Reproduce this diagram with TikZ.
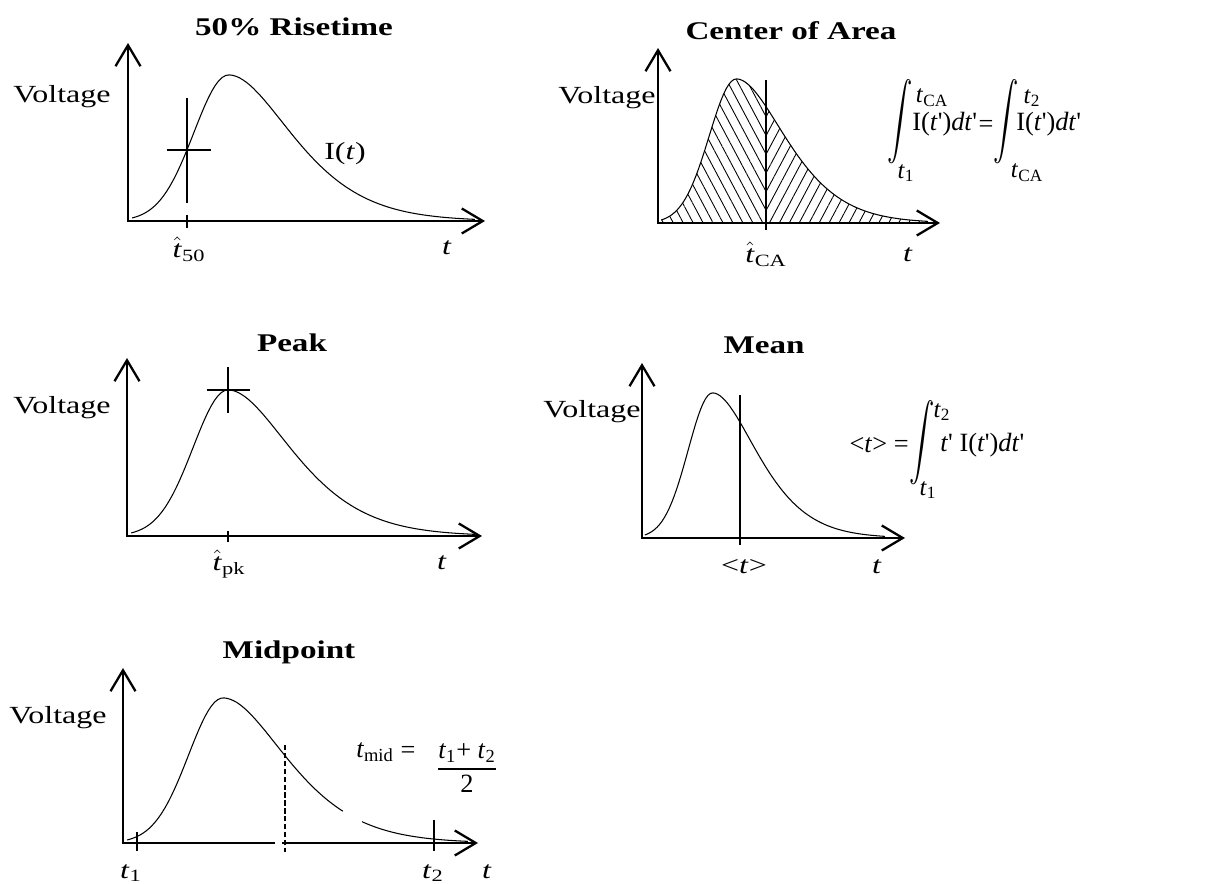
\documentclass[tikz,border=0pt]{standalone}
\usepackage{amsmath}
\usepackage{graphicx}
\usepackage{fontspec}
\setmainfont{Liberation Serif}[FakeStretch=1.3]
\newfontfamily\eqfont{Liberation Serif}
\usetikzlibrary{arrows.meta,patterns.meta}

\newcommand\tallint{\scalebox{1}[1.5]{$\displaystyle\int$}}
\newcommand\hatt{$\hat{\mbox{\textit{t}}}$}

\begin{document}
\begin{tikzpicture}[x=0.02cm,y=-0.02cm,>={Straight Barb[length=0.42cm,width=0.5cm]},
  every node/.style={font=\fontsize{14}{16}\selectfont,inner sep=0pt},
  ttl/.style={font=\bfseries\fontsize{14.5}{17}\selectfont},
  eqn/.style={font=\eqfont\fontsize{15}{17}\selectfont},
  lim/.style={font=\eqfont\fontsize{14}{16}\selectfont},
  axes/.style={line width=1.3pt,line join=miter},
  curve/.style={line width=0.6pt},
  cross/.style={line width=1.2pt},
  declare function={pulse(\u)=(\u<0.29)*exp(-50*(\u-0.29)*(\u-0.29))+(\u>=0.29)*((\u/0.29)*exp(1-\u/0.29))^3.7;}]
\useasboundingbox (0,0) rectangle (1224,884);

% 50% risetime
\node[ttl] (riseT) at (294,27) {50\% Risetime};
\node (riseV) at (62,97) {Voltage};
\draw[axes,<->] (128,43) -- (128,221) -- (485,221);
\draw[curve] plot[domain=0.012:1,samples=100] ({128+347*\x},{221-146*pulse(\x)});
\coordinate (rise50) at ({128+347*0.17},{221-146*pulse(0.17)});
\draw[cross] (rise50) ++(0,-52) -- ++(0,105);
\draw[cross] (rise50) ++(-20,0) -- ++(44,0);
\draw[cross] (187,215) -- (187,228);
\node (riseLab) at (189,249) {\hatt\textsubscript{50}};
\node (riseI) at (345,154) {I(\textit{t})};
\node (riset) at (447,248) {\textit{t}};

% center of area
\node[ttl] (coaT) at (791,31) {Center of Area};
\node (coaV) at (607,98) {Voltage};
\fill[pattern={Lines[angle=-62,distance=5pt,line width=0.5pt]}] (658,223)
  -- plot[domain=0.012:0.4,samples=50] ({658+270*\x},{223-144*pulse(\x)}) -- (766,223) -- cycle;
\fill[pattern={Lines[angle=62,distance=5pt,line width=0.5pt]}] (766,223)
  -- plot[domain=0.4:1,samples=60] ({658+270*\x},{223-144*pulse(\x)}) -- (928,223) -- cycle;
\draw[axes,<->] (658,48) -- (658,223) -- (940,223);
\draw[curve] plot[domain=0.012:1,samples=100] ({658+270*\x},{223-144*pulse(\x)});
\draw[cross] (766,80) -- (766,230);
\node (coaLab) at (766,254) {\hatt\textsubscript{CA}};
\node (coat) at (908,255) {\textit{t}};
\node (coaInt1) at (900,122) {\tallint};
\node[lim] (coaUp1) at (932,98) {\textit{t}\textsubscript{CA}};
\node[eqn,anchor=west] (coaF1) at (912,124) {I(\textit{t}\textquotesingle)\textit{dt}\textquotesingle};
\node[lim] (coaLo1) at (906,173) {\textit{t}\textsubscript{1}};
\node[eqn] (coaEq) at (986,126) {=};
\node (coaInt2) at (1006,122) {\tallint};
\node[lim] (coaUp2) at (1032,98) {\textit{t}\textsubscript{2}};
\node[eqn,anchor=west] (coaF2) at (1016,124) {I(\textit{t}\textquotesingle)\textit{dt}\textquotesingle};
\node[lim] (coaLo2) at (1027,173) {\textit{t}\textsubscript{CA}};

% peak
\node[ttl] (pkT) at (292,343) {Peak};
\node (pkV) at (62,408) {Voltage};
\draw[axes,<->] (127,358) -- (127,536) -- (482,536);
\draw[curve] plot[domain=0.012:1,samples=100] ({127+348*\x},{536-146*pulse(\x)});
\coordinate (pk) at ({127+348*0.29},{536-146*pulse(0.29)});
\draw[cross] (pk) ++(0,-23) -- ++(0,46);
\draw[cross] (pk) ++(-21,0) -- ++(43,0);
\draw[cross] (228,531) -- (228,542);
\node (pkLab) at (229,564) {\hatt\textsubscript{pk}};
\node (pkt) at (442,563) {\textit{t}};

% mean
\node[ttl] (meanT) at (764,345) {Mean};
\node (meanV) at (592,412) {Voltage};
\draw[axes,<->] (642,363) -- (642,538) -- (905,538);
\draw[curve] plot[domain=0.012:1,samples=100] ({642+243*\x},{538-145*pulse(\x)});
\draw[cross] (740,395) -- (740,545);
\node (meanLab) at (744,567) {<\textit{t}>};
\node (meant) at (877,567) {\textit{t}};
\node[eqn,anchor=east] (meanL) at (909,445) {<\textit{t}> =};
\node (meanInt) at (922,443) {\tallint};
\node[lim] (meanUp) at (942,412) {\textit{t}\textsubscript{2}};
\node[lim] (meanLo) at (928,490) {\textit{t}\textsubscript{1}};
\node[eqn,anchor=west] (meanF) at (940,445) {\textit{t}\textquotesingle{} I(\textit{t}\textquotesingle)\textit{dt}\textquotesingle};

% midpoint
\node[ttl] (midT) at (289,652) {Midpoint};
\node (midV) at (58,718) {Voltage};
\draw[axes,<-] (123,668) -- (123,843) -- (275,843);
\draw[axes,->] (282,843) -- (478,843);
\draw[curve] plot[domain=0.012:0.638,samples=70] ({123+345*\x},{843-145*pulse(\x)});
\draw[curve] plot[domain=0.693:1,samples=30] ({123+345*\x},{843-145*pulse(\x)});
\draw[line width=1pt,dash pattern=on 3pt off 1.5pt] (285,745) -- (285,852);
\draw[cross] (137,832) -- (137,851);
\draw[cross] (434,820) -- (434,851);
\node (midLo) at (131,873) {\textit{t}\textsubscript{1}};
\node (midHi) at (433,873) {\textit{t}\textsubscript{2}};
\node (midt) at (487,872) {\textit{t}};
\node[eqn] (midL) at (375,752) {\textit{t}\textsubscript{mid}};
\node[eqn] (midEq) at (408,752) {=};
\node[eqn] (midFrac) at (467,768) {$\dfrac{\text{\textit{t}\textsubscript{1}+ \textit{t}\textsubscript{2}}}{\text{2}}$};
\end{tikzpicture}
\end{document}
